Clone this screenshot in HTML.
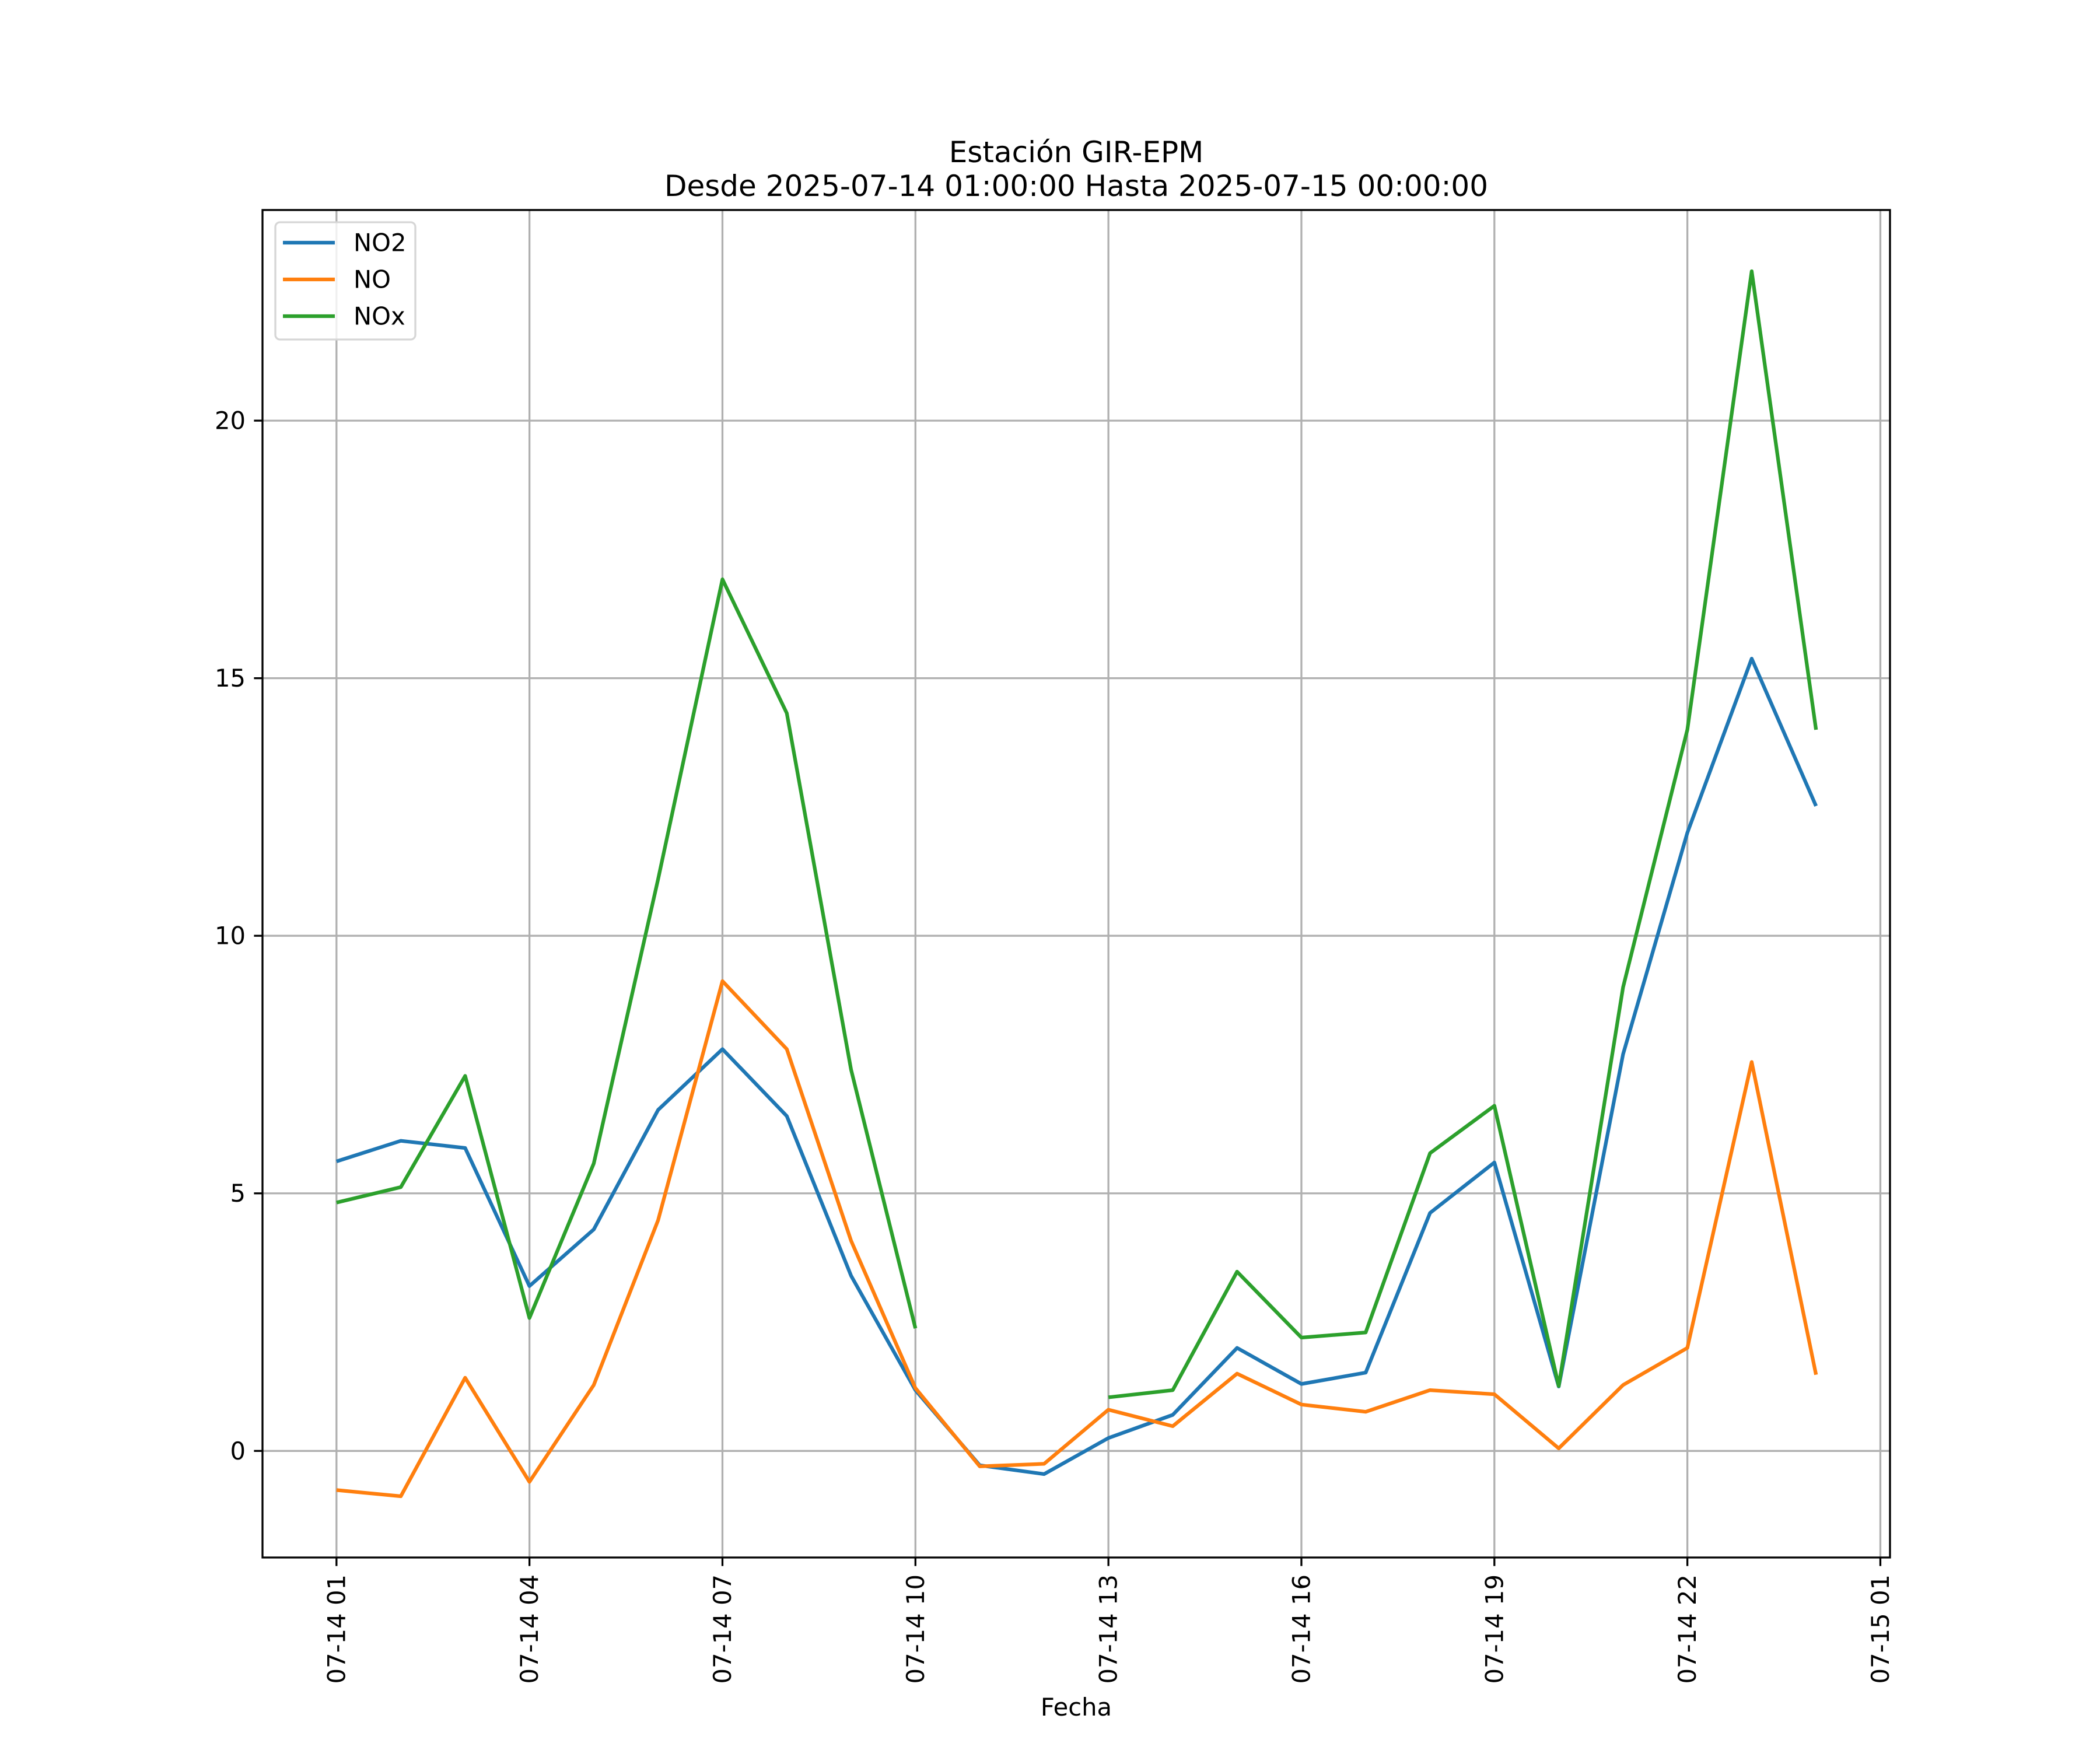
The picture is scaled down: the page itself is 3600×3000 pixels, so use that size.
<!DOCTYPE html>
<html><head><meta charset="utf-8"><style>html,body{margin:0;padding:0;background:#fff}svg{display:block}text{font-family:"DejaVu Sans","Liberation Sans",sans-serif}</style></head>
<body>
<svg id="chart" width="3600" height="3000" viewBox="0 0 3600 3000" xmlns="http://www.w3.org/2000/svg">
<rect width="3600" height="3000" fill="#fff"/>
<g id="grid"></g>
<g id="series"></g>
<rect x="450" y="360" width="2790" height="2310" fill="none" stroke="#000" stroke-width="3.3"/>
<g id="ticks"></g>
<text x="1845" y="278" font-size="50" text-anchor="middle">Estación GIR-EPM</text>
<text x="1845" y="336" font-size="50" text-anchor="middle">Desde 2025-07-14 01:00:00 Hasta 2025-07-15 00:00:00</text>
<text x="1845" y="2941" font-size="41.7" text-anchor="middle">Fecha</text>
<g id="legend">
<rect x="472" y="381" width="240" height="201" rx="8" fill="#fff" fill-opacity="0.8" stroke="#d6d6d6" stroke-width="3.3"/>
</g>
</svg>
<script>
const hours = [1,2,3,4,5,6,7,8,9,10,11,12,13,14,15,16,17,18,19,20,21,22,23,24];
const no2 = [5.62,6.02,5.88,3.2,4.3,6.62,7.8,6.5,3.4,1.18,-0.28,-0.45,0.25,0.7,2.0,1.3,1.52,4.62,5.6,1.25,7.7,12.0,15.38,12.52];
const no = [-0.76,-0.88,1.42,-0.6,1.28,4.48,9.12,7.8,4.08,1.22,-0.3,-0.25,0.8,0.48,1.5,0.9,0.76,1.18,1.1,0.05,1.28,2.0,7.55,1.48];
const nox = [4.82,5.12,7.28,2.58,5.58,11.1,16.92,14.32,7.4,2.38,null,null,1.04,1.18,3.48,2.2,2.3,5.78,6.7,1.26,9.0,14.0,22.9,14.0];
const xTicks = [1,4,7,10,13,16,19,22,25];
const xTickLabels = ["07-14 01","07-14 04","07-14 07","07-14 10","07-14 13","07-14 16","07-14 19","07-14 22","07-15 01"];
const yTicks = [0,5,10,15,20];
const seriesNames = ["NO2","NO","NOx"];
const seriesColors = ["#1f77b4","#ff7f0e","#2ca02c"];

const NS="http://www.w3.org/2000/svg";
const L=450,R=3240,T=360,B=2670;
const all=[...no2,...no,...nox].filter(v=>v!==null);
const dmin=Math.min(...all),dmax=Math.max(...all),pad=(dmax-dmin)*0.05;
const ymin=dmin-pad,ymax=dmax+pad;
const xpad=(hours[hours.length-1]-hours[0])*0.05;
const xmin=hours[0]-xpad,xmax=hours[hours.length-1]+xpad;
const X=v=>L+(v-xmin)/(xmax-xmin)*(R-L);
const Y=v=>B-(v-ymin)/(ymax-ymin)*(B-T);
function mk(tag,attrs,parent){const e=document.createElementNS(NS,tag);for(const k in attrs)e.setAttribute(k,attrs[k]);parent.appendChild(e);return e;}
const grid=document.getElementById('grid'),ticks=document.getElementById('ticks'),ser=document.getElementById('series'),leg=document.getElementById('legend');
xTicks.forEach((t,i)=>{
  const x=X(t);
  const g=mk('line',{x1:x,x2:x,y1:T,y2:B,stroke:'#b0b0b0','stroke-width':3.3},grid);
  
  
  const tk=mk('line',{x1:x,x2:x,y1:B,y2:B+14.6,stroke:'#000','stroke-width':3.3},ticks);
  
  
  const tx=mk('text',{x:0,y:0,'font-size':41.7,'text-anchor':'end','dominant-baseline':'central',transform:`translate(${x},${B+29}) rotate(-90)`},ticks);
  tx.textContent=xTickLabels[i];
  
  
});
yTicks.forEach(t=>{
  const y=Y(t);
  const g=mk('line',{x1:L,x2:R,y1:y,y2:y,stroke:'#b0b0b0','stroke-width':3.3},grid);
  
  
  const tk=mk('line',{x1:L-14.6,x2:L,y1:y,y2:y,stroke:'#000','stroke-width':3.3},ticks);
  
  
  const tx=mk('text',{x:L-29,y:y,'font-size':41.7,'text-anchor':'end','dominant-baseline':'central'},ticks);
  tx.textContent=String(t);
  
  
});
[no2,no,nox].forEach((vals,si)=>{
  let d='',pen=false;
  vals.forEach((v,i)=>{
    if(v===null){pen=false;return;}
    d+=(pen?'L':'M')+X(hours[i]).toFixed(1)+','+Y(v).toFixed(1);pen=true;
  });
  const p=mk('path',{d:d,fill:'none',stroke:seriesColors[si],'stroke-width':6.25,'stroke-linejoin':'round'},ser);
  
  
  const y=416+si*63;
  const ll=mk('line',{x1:485,x2:574,y1:y,y2:y,stroke:seriesColors[si],'stroke-width':6.25},leg);
  
  
  const lt=mk('text',{x:606,y:y,'font-size':41.7,'dominant-baseline':'central'},leg);
  lt.textContent=seriesNames[si];
  
  
});
</script>
</body></html>
